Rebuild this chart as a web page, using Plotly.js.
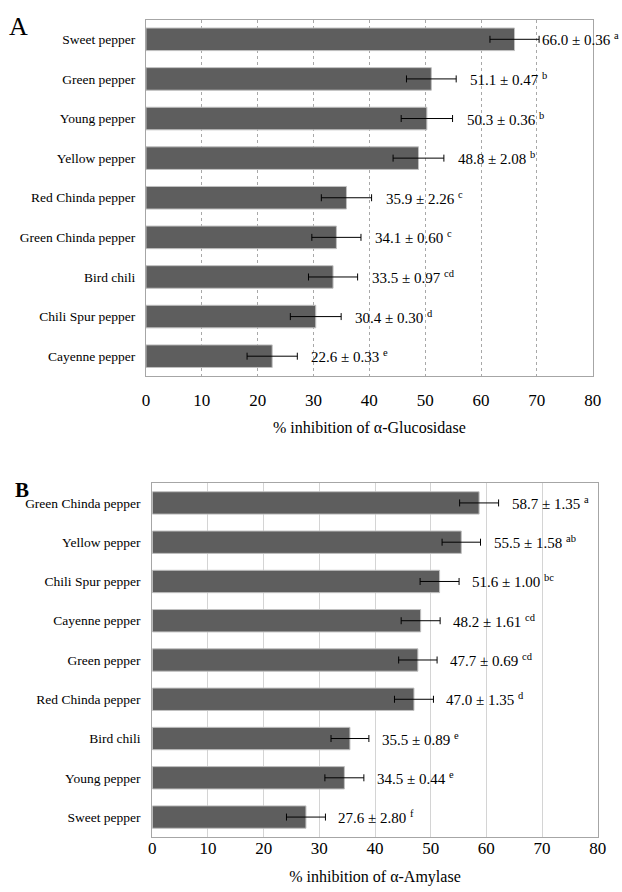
<!DOCTYPE html>
<html>
<head>
<meta charset="utf-8">
<script src="https://cdn.plot.ly/plotly-3.0.1.min.js"></script>
<style>
html,body{margin:0;padding:0;background:#fff;}
#chart{width:622px;height:892px;}
</style>
</head>
<body>
<div id="chart"></div>
<script>
// Panel A: alpha-Glucosidase
const catsA = ['Sweet pepper','Green pepper','Young pepper','Yellow pepper','Red Chinda pepper','Green Chinda pepper','Bird chili','Chili Spur pepper','Cayenne pepper'];
const valsA = [66.0, 51.1, 50.3, 48.8, 35.9, 34.1, 33.5, 30.4, 22.6];
const sdA = [0.36, 0.47, 0.36, 2.08, 2.26, 0.60, 0.97, 0.30, 0.33];
const lettersA = ['a','b','b','b','c','c','cd','d','e'];
const errA = [4.4, 4.45, 4.6, 4.55, 4.5, 4.4, 4.4, 4.55, 4.5];

// Panel B: alpha-Amylase
const catsB = ['Green Chinda pepper','Yellow pepper','Chili Spur pepper','Cayenne pepper','Green pepper','Red Chinda pepper','Bird chili','Young pepper','Sweet pepper'];
const valsB = [58.7, 55.5, 51.6, 48.2, 47.7, 47.0, 35.5, 34.5, 27.6];
const sdB = [1.35, 1.58, 1.00, 1.61, 0.69, 1.35, 0.89, 0.44, 2.80];
const lettersB = ['a','ab','bc','cd','cd','d','e','e','f'];
const errB = [3.5, 3.45, 3.5, 3.5, 3.45, 3.5, 3.4, 3.5, 3.5];

const xTicks = [0,10,20,30,40,50,60,70,80];
const titleA = '% inhibition of α-Glucosidase';
const titleB = '% inhibition of α-Amylase';

const FONT = '"Liberation Serif", "DejaVu Serif", serif';
const W = 622, H = 892;
const px = v => v / W;
const py = v => 1 - v / H;

function barTrace(cats, vals, errs, xa, ya) {
  return {
    type: 'bar', orientation: 'h',
    y: cats, x: vals, xaxis: xa, yaxis: ya,
    marker: {color: '#5e5e5e', line: {color: '#c0c0c0', width: 1}},
    error_x: {type: 'data', array: errs, visible: true, color: '#000', thickness: 1, width: 3.5},
    hoverinfo: 'none', showlegend: false
  };
}

function labelAnns(cats, vals, sds, letters, errs, xr, yr, shift) {
  return cats.map((c, i) => ({
    x: vals[i] + errs[i], y: c, xref: xr, yref: yr,
    xanchor: 'left', yanchor: 'middle',
    xshift: (vals[i] + errs[i] > 65) ? 1 : shift,
    text: vals[i].toFixed(1) + ' ± ' + sds[i].toFixed(2) + ' <sup>' + letters[i] + '</sup>',
    showarrow: false, font: {family: FONT, size: 15, color: '#000'}
  }));
}

const data = [
  barTrace(catsA, valsA, errA, 'x', 'y'),
  barTrace(catsB, valsB, errB, 'x2', 'y2')
];

function xAxis(domain, anchor, title, dash, gcolor, tlen, tstand, tistand) {
  return {
    domain: domain, anchor: anchor, range: [0, 80],
    tickvals: xTicks, ticktext: xTicks.map(String),
    showgrid: true, gridcolor: gcolor, griddash: dash, gridwidth: 1,
    zeroline: false, showline: true, mirror: true, linecolor: '#a6a6a6', linewidth: 1,
    ticks: tlen > 0 ? 'outside' : '', ticklen: tlen, tickcolor: 'rgba(0,0,0,0)',
    ticklabelstandoff: tstand,
    tickfont: {family: FONT, size: 17, color: '#000'},
    title: {text: title, font: {family: FONT, size: 16, color: '#000'}, standoff: tistand},
    fixedrange: true
  };
}
function yAxis(domain, anchor, tlen) {
  return {
    domain: domain, anchor: anchor, autorange: 'reversed', type: 'category',
    showgrid: false, zeroline: false, showline: true, mirror: true, linecolor: '#a6a6a6', linewidth: 1,
    ticks: 'outside', ticklen: tlen, tickcolor: 'rgba(0,0,0,0)',
    tickfont: {family: FONT, size: 13.5, color: '#000'},
    fixedrange: true
  };
}

const layout = {
  width: W, height: H,
  margin: {l: 0, r: 0, t: 0, b: 0},
  paper_bgcolor: '#fff', plot_bgcolor: '#fff',
  bargap: 0.43,
  font: {family: FONT, color: '#000'},
  xaxis: xAxis([px(146), px(592.7)], 'y', titleA, '3px,3px', '#a8a8a8', 9, 0, 12),
  yaxis: yAxis([py(376), py(19.5)], 'x', 7),
  xaxis2: xAxis([px(152.3), px(597.7)], 'y2', titleB, 'solid', '#d4d4d4', 0, -4, 13),
  yaxis2: yAxis([py(836.7), py(483.3)], 'x2', 8),
  annotations: [
    ...labelAnns(catsA, valsA, sdA, lettersA, errA, 'x', 'y', 12),
    ...labelAnns(catsB, valsB, sdB, lettersB, errB, 'x2', 'y2', 11),
    {text: 'A', xref: 'paper', yref: 'paper', x: px(18.5), y: py(26.5), xanchor: 'center', yanchor: 'middle',
     showarrow: false, font: {family: FONT, size: 26, color: '#000'}},
    {text: '<b>B</b>', xref: 'paper', yref: 'paper', x: px(21.5), y: py(490.5), xanchor: 'center', yanchor: 'middle',
     showarrow: false, font: {family: FONT, size: 21, color: '#000'}}
  ]
};

Plotly.newPlot('chart', data, layout, {staticPlot: true, displayModeBar: false});
</script>
</body>
</html>
